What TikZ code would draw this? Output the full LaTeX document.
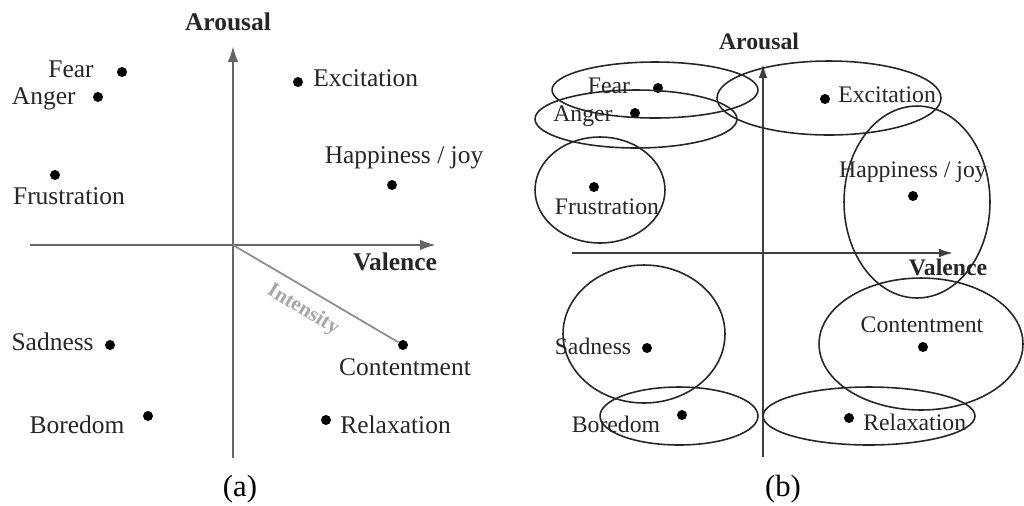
\documentclass[tikz,border=0pt]{standalone}
\usepackage{fontspec}
\setmainfont{Liberation Serif}
\usetikzlibrary{arrows.meta}
\begin{document}
\begin{tikzpicture}[x=0.02cm,y=-0.02cm,
  dot/.style={circle,fill=black,inner sep=0pt,minimum size=0.2cm},
  lbla/.style={font=\fontsize{14.5}{17}\selectfont,text=black!85,inner sep=0pt},
  lblb/.style={font=\fontsize{13.5}{16}\selectfont,text=black!85,inner sep=0pt},
  axlbla/.style={font=\bfseries\fontsize{14.5}{17}\selectfont,text=black!85,inner sep=0pt},
  axlblb/.style={font=\bfseries\fontsize{13.5}{16}\selectfont,text=black!85,inner sep=0pt},
  axisa/.style={draw=black!60,line width=1.3pt,-{Latex[length=9pt,width=6pt]}},
  axisb/.style={draw=black!75,line width=1pt,-{Latex[length=8pt,width=5pt]}},
  ring/.style={draw=black!85,line width=0.9pt},
  captxt/.style={font=\fontsize{17.5}{20}\selectfont,inner sep=0pt}]
\useasboundingbox (0,0) rectangle (1024,505);

% ---------------- panel (a) ----------------
\coordinate (ha0) at (30,245);
\coordinate (ha1) at (436,245);
\coordinate (va0) at (233,458);
\coordinate (va1) at (233,46);
\coordinate (oa) at (233,245);
\draw[axisa] (ha0) -- (ha1);
\draw[axisa] (va0) -- (va1);
\node[axlbla] (arousala) at (228,22) {Arousal};
\node[axlbla] (valencea) at (395,262) {Valence};

\node[dot] (fearA) at (122,72) {};
\node[dot] (angerA) at (98,97) {};
\node[dot] (frusA) at (55,175) {};
\node[dot] (excA) at (298,82) {};
\node[dot] (hapA) at (392,185) {};
\node[dot] (sadA) at (110,345) {};
\node[dot] (borA) at (148,416) {};
\node[dot] (conA) at (403,345) {};
\node[dot] (relA) at (326,420) {};

\draw[draw=black!45,line width=1pt] (oa) -- (conA);
\node[font=\bfseries\fontsize{12}{14}\selectfont,text=black!35,rotate=-31,inner sep=0pt] (intA) at (303,310) {Intensity};

\node[lbla,anchor=east] (tfearA) at (94,69) {Fear};
\node[lbla,anchor=east] (tangerA) at (76,99) {Anger};
\node[lbla] (tfrusA) at (69,196) {Frustration};
\node[lbla,anchor=west] (texcA) at (313,78) {Excitation};
\node[lbla] (thapA) at (404,158) {Happiness / joy};
\node[lbla,anchor=east] (tsadA) at (94,342) {Sadness};
\node[lbla] (tborA) at (77,425) {Boredom};
\node[lbla] (tconA) at (405,367) {Contentment};
\node[lbla,anchor=west] (trelA) at (340,425) {Relaxation};

\node[captxt] (capa) at (240,489) {(a)};

% ---------------- panel (b) ----------------
\coordinate (hb0) at (572,253);
\coordinate (hb1) at (953,253);
\coordinate (vb0) at (763,457);
\coordinate (vb1) at (763,64);
\draw[axisb] (hb0) -- (hb1);
\draw[axisb] (vb0) -- (vb1);
\node[axlblb] (arousalb) at (759,41) {Arousal};
\node[axlblb] (valenceb) at (948,267) {Valence};

\node[dot] (fearB) at (658,88) {};
\node[dot] (angerB) at (635,113) {};
\node[dot] (frusB) at (594,187) {};
\node[dot] (excB) at (825,99) {};
\node[dot] (hapB) at (913,196) {};
\node[dot] (sadB) at (647,348) {};
\node[dot] (borB) at (682,415) {};
\node[dot] (conB) at (923,347) {};
\node[dot] (relB) at (849,418) {};

\node[lblb] (tfearB) at (609,86) {Fear};
\node[lblb] (tangerB) at (583,116) {Anger};
\node[lblb] (tfrusB) at (607,207) {Frustration};
\node[lblb,anchor=west] (texcB) at (838,95) {Excitation};
\node[lblb] (thapB) at (913,172) {Happiness / joy};
\node[lblb] (tsadB) at (593,346) {Sadness};
\node[lblb] (tborB) at (616,424) {Boredom};
\node[lblb] (tconB) at (922,325) {Contentment};
\node[lblb,anchor=west] (trelB) at (863,422) {Relaxation};

\draw[ring] (655,90) ellipse [x radius=2.06cm, y radius=0.56cm];
\draw[ring] (636,119) ellipse [x radius=2.02cm, y radius=0.58cm];
\draw[ring] (600,190) ellipse [x radius=1.30cm, y radius=1.06cm];
\draw[ring] (644,334) ellipse [x radius=1.62cm, y radius=1.38cm];
\draw[ring] (679,416) ellipse [x radius=1.58cm, y radius=0.58cm];
\draw[ring] (829,98) ellipse [x radius=2.24cm, y radius=0.74cm];
\draw[ring] (917,202) ellipse [x radius=1.46cm, y radius=1.92cm];
\draw[ring] (921,344) ellipse [x radius=2.04cm, y radius=1.32cm];
\draw[ring] (869,416) ellipse [x radius=2.12cm, y radius=0.58cm];

\node[captxt] (capb) at (783,489) {(b)};
\end{tikzpicture}
\end{document}
